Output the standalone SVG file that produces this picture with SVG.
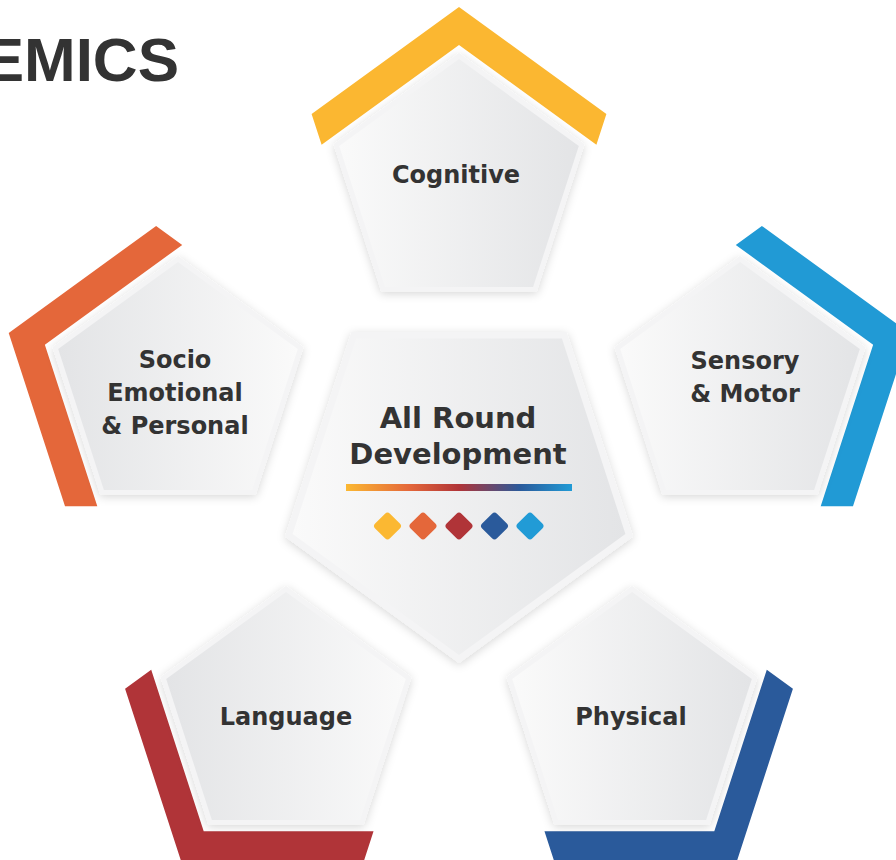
<svg xmlns="http://www.w3.org/2000/svg" xmlns:xlink="http://www.w3.org/1999/xlink" width="896" height="860" viewBox="0 0 896 860">
  <style>
    .lbl { font-family: "DejaVu Sans", "Liberation Sans", sans-serif; font-weight: bold; font-size: 24px; fill: #333333; text-anchor: middle; }
    .big { font-size: 29px; }
    .title { font-family: "Liberation Sans", Arial, sans-serif; font-weight: bold; font-size: 62px; fill: #333333; text-anchor: end; }
    .frame { fill: #f4f4f5; filter: url(#shadow); }
  </style>
  <defs>
    <filter id="shadow" x="-20%" y="-20%" width="140%" height="140%">
      <feDropShadow dx="0" dy="2" stdDeviation="5" flood-color="#000000" flood-opacity="0.16"/>
    </filter>
    <linearGradient id="gLR" x1="0" y1="0" x2="1" y2="0">
      <stop offset="0" stop-color="#fafafa"/>
      <stop offset="1" stop-color="#e3e4e6"/>
    </linearGradient>
    <linearGradient id="gRL" x1="1" y1="0" x2="0" y2="0">
      <stop offset="0" stop-color="#fafafa"/>
      <stop offset="1" stop-color="#e3e4e6"/>
    </linearGradient>
    <linearGradient id="gBar" x1="0" y1="0" x2="1" y2="0">
      <stop offset="0" stop-color="#fbb832"/>
      <stop offset="0.28" stop-color="#e4673a"/>
      <stop offset="0.5" stop-color="#b03438"/>
      <stop offset="0.77" stop-color="#2a5a9b"/>
      <stop offset="1" stop-color="#219bd6"/>
    </linearGradient>
    <polygon id="pentOut" points="0,-132 125.5,-40.8 77.6,106.8 -77.6,106.8 -125.5,-40.8"/>
    <polygon id="pentIn" points="0,-126 119.8,-38.9 74.1,101.9 -74.1,101.9 -119.8,-38.9"/>
    <polygon id="band" points="0,-178 147.4,-70.9 137.4,-40.2 0,-140 -137.4,-40.2 -147.4,-70.9"/>
    <polygon id="centerOut" points="0,183 -174,56.5 -107.6,-148 107.6,-148 174,56.5"/>
    <polygon id="centerIn" points="0,175 -166.4,54 -102.9,-141.6 102.9,-141.6 166.4,54"/>
    <rect id="dia" x="-10.5" y="-10.5" width="21" height="21" rx="3.5" ry="3.5" transform="rotate(45)"/>
  </defs>

  <rect x="0" y="0" width="896" height="860" fill="#ffffff"/>

  <text class="title" x="179" y="81">EMICS</text>

  <g id="connectors"/>

  <g id="cognitive" transform="translate(459,185)">
    <use xlink:href="#band" fill="#fbb731"/>
    <use xlink:href="#pentOut" class="frame"/>
    <use xlink:href="#pentIn" fill="url(#gLR)"/>
    <text class="lbl" x="-3" y="-2">Cognitive</text>
  </g>

  <g id="socio" transform="translate(178,388)">
    <use xlink:href="#band" fill="#e4673a" transform="rotate(-72)"/>
    <use xlink:href="#pentOut" class="frame"/>
    <use xlink:href="#pentIn" fill="url(#gRL)"/>
    <text class="lbl" x="-3" y="-20">Socio</text>
    <text class="lbl" x="-3" y="13">Emotional</text>
    <text class="lbl" x="-3" y="46">&amp; Personal</text>
  </g>

  <g id="sensory" transform="translate(740,388)">
    <use xlink:href="#band" fill="#219ad5" transform="rotate(72)"/>
    <use xlink:href="#pentOut" class="frame"/>
    <use xlink:href="#pentIn" fill="url(#gLR)"/>
    <text class="lbl" x="5" y="-19">Sensory</text>
    <text class="lbl" x="5" y="14">&amp; Motor</text>
  </g>

  <g id="language" transform="translate(286,718)">
    <use xlink:href="#band" fill="#b03438" transform="rotate(-144)"/>
    <use xlink:href="#pentOut" class="frame"/>
    <use xlink:href="#pentIn" fill="url(#gRL)"/>
    <text class="lbl" x="0" y="7">Language</text>
  </g>

  <g id="physical" transform="translate(632,718)">
    <use xlink:href="#band" fill="#2a5a9b" transform="rotate(144)"/>
    <use xlink:href="#pentOut" class="frame"/>
    <use xlink:href="#pentIn" fill="url(#gLR)"/>
    <text class="lbl" x="-1" y="7">Physical</text>
  </g>

  <g id="center" transform="translate(459,480)">
    <use xlink:href="#centerOut" class="frame"/>
    <use xlink:href="#centerIn" fill="url(#gLR)"/>
    <text class="lbl big" x="-1" y="-52">All Round</text>
    <text class="lbl big" x="-1" y="-16">Development</text>
    <rect x="-113" y="4" width="226" height="7" fill="url(#gBar)"/>
    <use xlink:href="#dia" x="0" y="0" transform="translate(-71.5,46)" fill="#fbb832"/>
    <use xlink:href="#dia" transform="translate(-36,46)" fill="#e4673a"/>
    <use xlink:href="#dia" transform="translate(0,46)" fill="#b03438"/>
    <use xlink:href="#dia" transform="translate(35.5,46)" fill="#2a5a9b"/>
    <use xlink:href="#dia" transform="translate(71,46)" fill="#219bd6"/>
  </g>
</svg>
